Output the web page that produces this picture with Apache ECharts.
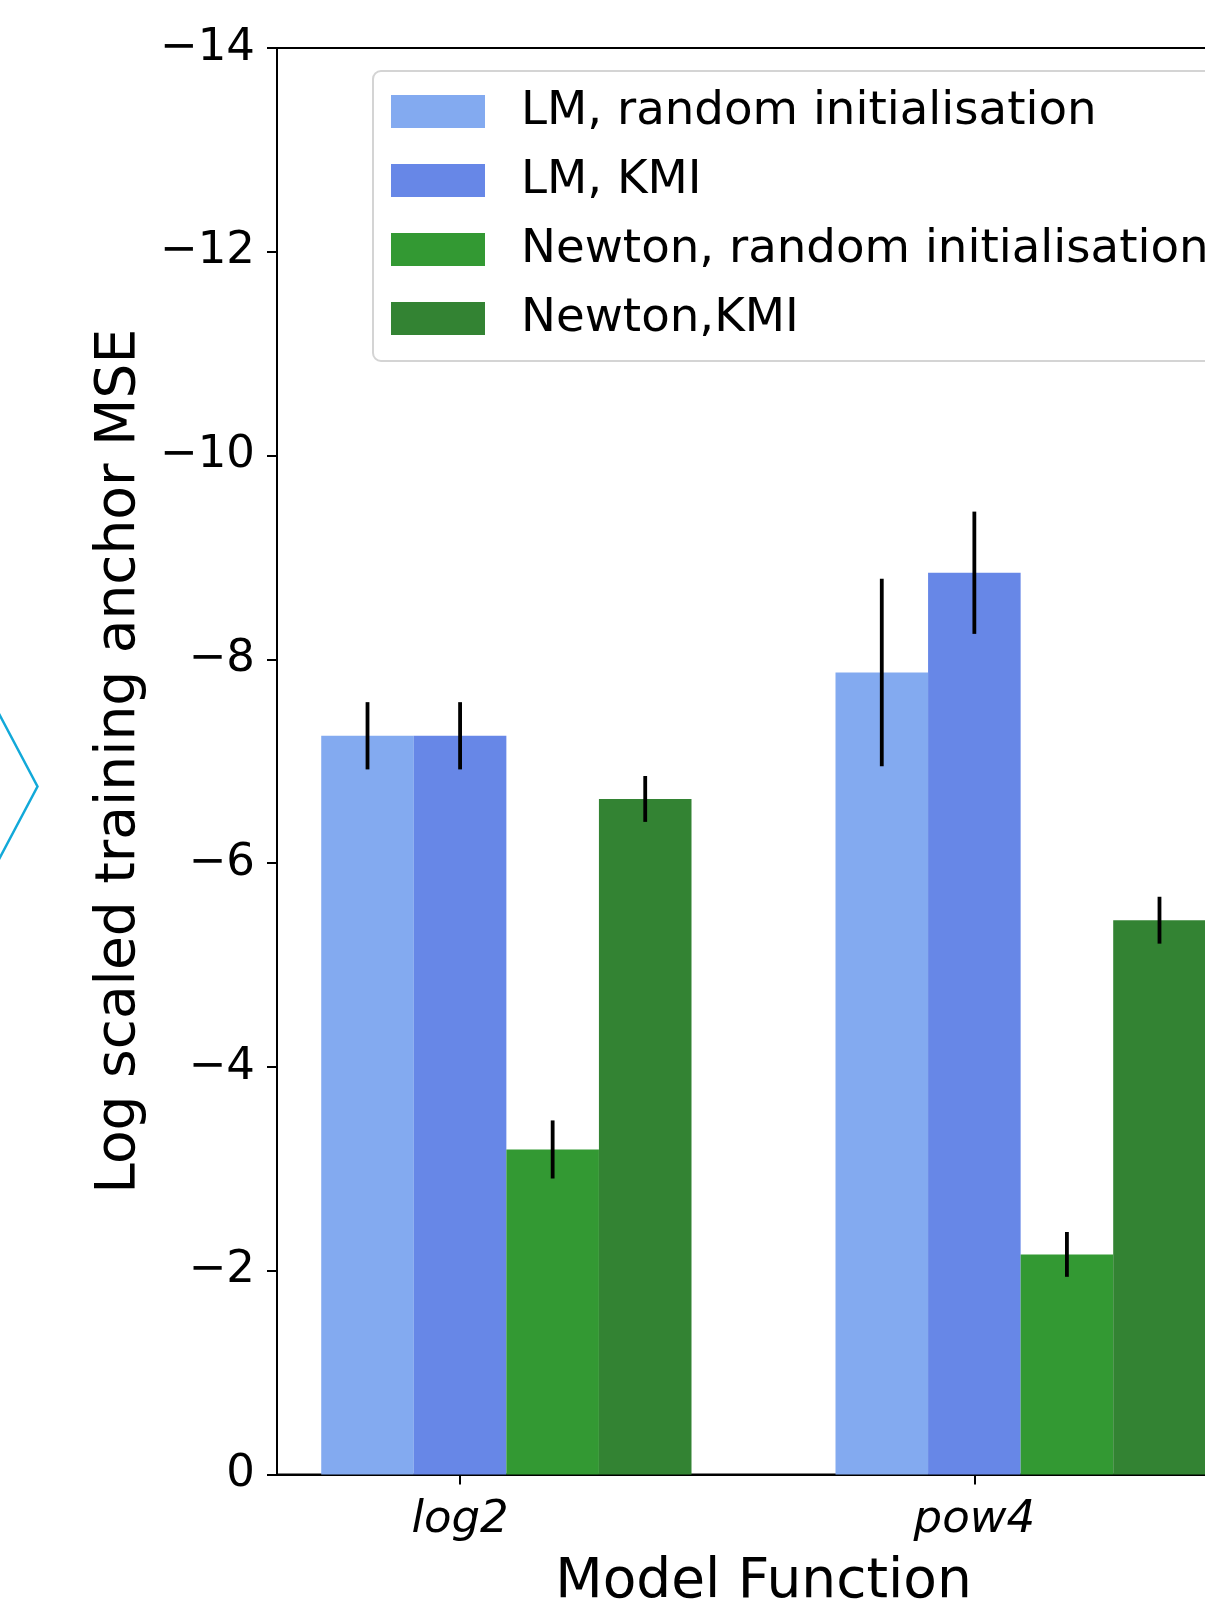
<!DOCTYPE html>
<html>
<head>
<meta charset="utf-8">
<script src="https://cdn.jsdelivr.net/npm/echarts@6/dist/echarts.min.js"></script>
<style>
html, body { margin: 0; padding: 0; overflow: hidden; background: #fff; }
#main { width: 1300px; height: 1603px; }
</style>
</head>
<body>
<div id="main"></div>
<script>
// ---- data ----
const categories = ['log2', 'pow4'];
const seriesNames = ['LM, random initialisation', 'LM, KMI', 'Newton, random initialisation', 'Newton,KMI'];
const lmRandom = [-7.25, -7.87];
const lmKmi = [-7.25, -8.85];
const newtonRandom = [-3.19, -2.16];
const newtonKmi = [-6.63, -5.44];
const lmRandomErr = [0.33, 0.92];
const lmKmiErr = [0.33, 0.60];
const newtonRandomErr = [0.285, 0.22];
const newtonKmiErr = [0.225, 0.23];

const colors = ['#83AAF0', '#6787E7', '#339933', '#338333'];
const values = [lmRandom, lmKmi, newtonRandom, newtonKmi];
const errs = [lmRandomErr, lmKmiErr, newtonRandomErr, newtonKmiErr];
const offsets = [-1, 0, 1, 2];
const FONT = 'DejaVu Sans';

const chart = echarts.init(document.getElementById('main'), null, { renderer: 'canvas' });

const series = [];
// invisible placeholder so that the 2nd bar sits on the tick (as in bar(x - w), bar(x), ...)
series.push({ name: '_placeholder', type: 'bar', data: [], barWidth: '18%', barGap: '0%' });
values.forEach((vals, s) => {
  series.push({
    name: seriesNames[s],
    type: 'bar',
    barWidth: '18%',
    barGap: '0%',
    itemStyle: { color: colors[s] },
    data: categories.map((c, i) => [i, vals[i]])
  });
});
values.forEach((vals, s) => {
  const k = offsets[s];
  series.push({
    name: '_err' + s,
    type: 'custom',
    z: 10,
    encode: { x: 0, y: [1, 2] },
    data: categories.map((c, i) => [i, vals[i] - errs[s][i], vals[i] + errs[s][i]]),
    renderItem: function (params, api) {
      const x = api.value(0);
      const p1 = api.coord([x, api.value(1)]);
      const p2 = api.coord([x, api.value(2)]);
      const dx = api.size([1, 0])[0] * 0.18 * k;
      return {
        type: 'line',
        shape: { x1: p1[0] + dx, y1: p1[1], x2: p2[0] + dx, y2: p2[1] },
        style: { stroke: '#000', lineWidth: 3.8 }
      };
    }
  });
});

const option = {
  animation: false,
  backgroundColor: '#fff',
  textStyle: { fontFamily: FONT },
  grid: {
    left: 277, right: 50, top: 48, bottom: 128.5,
    outerBoundsMode: 'none',
    containLabel: false,
    show: true, borderColor: '#000', borderWidth: 2, backgroundColor: 'transparent'
  },
  legend: {
    data: seriesNames,
    orient: 'vertical',
    left: 373, top: 71,
    icon: 'rect',
    itemWidth: 94, itemHeight: 33, itemGap: 22,
    padding: [17, 20, 19, 18],
    borderColor: '#d4d4d4', borderWidth: 2, borderRadius: 8,
    backgroundColor: 'rgba(255,255,255,0.8)',
    textStyle: { fontFamily: FONT, fontSize: 46.7, color: '#000', padding: [0, 0, 0, 31] }
  },
  xAxis: {
    type: 'value',
    min: -0.356, max: 1.536,
    name: 'Model Function', nameLocation: 'middle', nameGap: 81,
    nameTextStyle: { fontFamily: FONT, fontSize: 55, color: '#000' },
    splitLine: { show: false },
    axisLine: { show: true, onZero: false, lineStyle: { color: '#000', width: 2 } },
    axisTick: { show: true, length: 10, lineStyle: { color: '#000', width: 2 }, customValues: [0, 1] },
    axisLabel: {
      customValues: [0, 1], margin: 23,
      fontFamily: FONT, fontSize: 45, fontStyle: 'italic', color: '#000',
      formatter: v => categories[Math.round(v)]
    }
  },
  yAxis: {
    type: 'value',
    inverse: true,
    min: -14, max: 0, interval: 2,
    name: 'Log scaled training anchor MSE', nameLocation: 'middle', nameGap: 130,
    nameTextStyle: { fontFamily: FONT, fontSize: 55, color: '#000' },
    splitLine: { show: false },
    axisLine: { show: true, onZero: false, lineStyle: { color: '#000', width: 2 } },
    axisTick: { show: true, length: 10, lineStyle: { color: '#000', width: 2 } },
    axisLabel: {
      margin: 22, fontFamily: FONT, fontSize: 45, color: '#000',
      formatter: v => (v < 0 ? '\u2212' + Math.abs(v) : String(v))
    }
  },
  graphic: [{
    type: 'polyline',
    shape: { points: [[-3, 710], [37.5, 786.5], [-3, 863]] },
    style: { stroke: '#12A9D9', lineWidth: 2.5, fill: null }
  }],
  series: series
};
chart.setOption(option);
</script>
</body>
</html>
